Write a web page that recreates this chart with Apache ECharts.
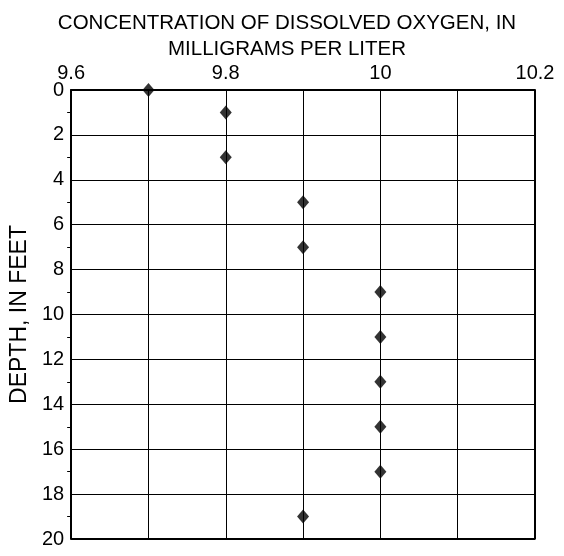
<!DOCTYPE html>
<html>
<head>
<meta charset="utf-8">
<script src="https://cdn.jsdelivr.net/npm/echarts@6/dist/echarts.min.js"></script>
<style>html,body{margin:0;padding:0;background:#fff}#c{width:564px;height:556px}</style>
</head>
<body>
<div id="c"></div>
<script>
const oxygen = [9.7, 9.8, 9.8, 9.9, 9.9, 10.0, 10.0, 10.0, 10.0, 10.0, 9.9];
const depth = [0, 1, 3, 5, 7, 9, 11, 13, 15, 17, 19];
const xTickLabels = ['9.6', '9.8', '10', '10.2'];

const chart = echarts.init(document.getElementById('c'));
const font = 'Liberation Sans, Arial, sans-serif';
chart.setOption({
  animation: false,
  title: {
    text: 'CONCENTRATION OF DISSOLVED OXYGEN, IN\nMILLIGRAMS PER LITER',
    left: 282, top: 5, textAlign: 'center',
    textStyle: { fontFamily: font, fontSize: 20.5, fontWeight: 'normal', color: '#000', lineHeight: 26 }
  },
  grid: { left: 71, right: 29, top: 90, bottom: 17, containLabel: false },
  xAxis: {
    type: 'value', position: 'top', min: 9.6, max: 10.2, interval: 0.1,
    axisLine: { show: true, onZero: false, lineStyle: { color: '#000', width: 2 } },
    axisTick: { show: false },
    axisLabel: {
      fontFamily: font, fontSize: 20, color: '#000', margin: 7,
      formatter: v => {
        const s = xTickLabels.find(t => Math.abs(parseFloat(t) - v) < 1e-6);
        return s || '';
      }
    },
    splitLine: { show: true, lineStyle: { color: '#000', width: 1 } }
  },
  yAxis: {
    type: 'value', inverse: true, min: 0, max: 20, interval: 2,
    name: 'DEPTH, IN FEET', nameLocation: 'middle', nameGap: 40, nameRotate: 90,
    nameTextStyle: { fontFamily: font, fontSize: 23, color: '#000' },
    axisLine: { show: true, onZero: false, lineStyle: { color: '#000', width: 2 } },
    axisTick: { show: false },
    minorTick: { show: true, splitNumber: 2, length: 4, lineStyle: { color: '#000', width: 1 } },
    axisLabel: { fontFamily: font, fontSize: 20, color: '#000', margin: 7 },
    splitLine: { show: true, lineStyle: { color: '#000', width: 1 } }
  },
  series: [
    {
      type: 'scatter', symbol: 'diamond', symbolSize: [12, 14],
      itemStyle: { color: '#000' },
      data: oxygen.map((v, i) => [v, depth[i]]),
      z: 5
    },
    {
      type: 'line', silent: true, symbol: 'none',
      lineStyle: { color: '#000', width: 2 },
      data: [[10.2, 0], [10.2, 20], [9.6, 20]],
      z: 4
    }
  ]
});
</script>
</body>
</html>
